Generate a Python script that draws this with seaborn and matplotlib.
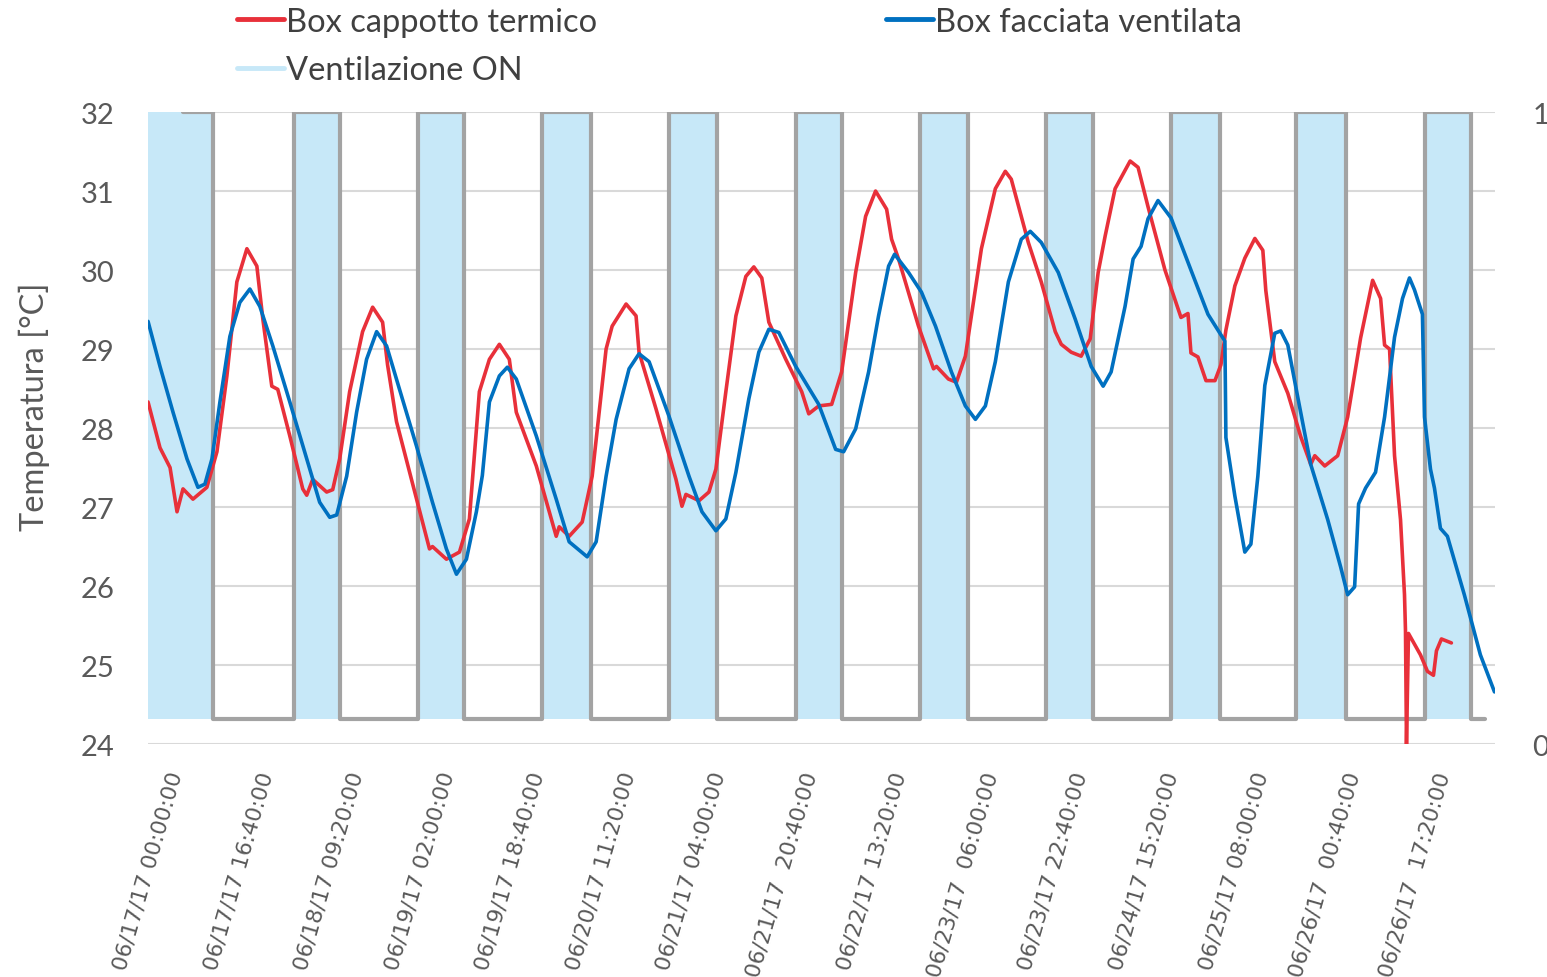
import numpy as np
import matplotlib
matplotlib.use('Agg')
import matplotlib.pyplot as plt
from matplotlib.lines import Line2D
import seaborn as sns

# x = minutes from 06/17/17 00:00 (one category label every 1000 min)
tick_labels = ['06/17/17 00:00:00', '06/17/17 16:40:00', '06/18/17 09:20:00',
               '06/19/17 02:00:00', '06/19/17 18:40:00', '06/20/17 11:20:00',
               '06/21/17 04:00:00', '06/21/17  20:40:00', '06/22/17 13:20:00',
               '06/23/17  06:00:00', '06/23/17 22:40:00', '06/24/17 15:20:00',
               '06/25/17 08:00:00', '06/26/17  00:40:00', '06/26/17  17:20:00']
tick_step = 1000

# Box cappotto termico
red_t = [0, 132, 243, 320, 386, 496, 650, 761, 871, 981, 1092, 1202, 1268, 1367, 1433,
         1566, 1709, 1753, 1819, 1973, 2040, 2117, 2227, 2370, 2481, 2591, 2646, 2745,
         2966, 3109, 3142, 3296, 3440, 3550, 3660, 3771, 3881, 3991, 4068, 4289, 4509,
         4542, 4652, 4796, 4906, 5060, 5127, 5281, 5391, 5424, 5612, 5832, 5898, 5942,
         6086, 6196, 6273, 6383, 6494, 6604, 6692, 6780, 6858, 7045, 7221, 7299, 7409,
         7552, 7662, 7817, 7927, 8037, 8159, 8214, 8291, 8511, 8677, 8710, 8842, 8930,
         9029, 9206, 9360, 9470, 9536, 9724, 9867, 10022, 10088, 10198, 10308, 10408,
         10496, 10573, 10683, 10849, 10937, 11047, 11234, 11411, 11488, 11521, 11598,
         11687, 11786, 11852, 11907, 12006, 12116, 12227, 12315, 12348, 12447, 12591,
         12734, 12844, 12889, 12999, 13142, 13252, 13395, 13528, 13616, 13660, 13715,
         13770, 13836, 13880, 13891, 13902, 13924, 14056, 14134, 14200, 14233, 14288,
         14398]
red_T = [28.33, 27.75, 27.5, 26.94, 27.23, 27.1, 27.25, 27.7, 28.66, 29.85, 30.27, 30.05,
         29.38, 28.53, 28.49, 27.9, 27.23, 27.15, 27.35, 27.19, 27.22, 27.61, 28.46, 29.22,
         29.53, 29.34, 28.8, 28.08, 27.1, 26.47, 26.5, 26.34, 26.43, 26.85, 28.46, 28.87,
         29.06, 28.87, 28.2, 27.52, 26.63, 26.75, 26.63, 26.81, 27.39, 29.0, 29.29, 29.57,
         29.42, 28.96, 28.24, 27.35, 27.01, 27.16, 27.08, 27.19, 27.48, 28.46, 29.42,
         29.92, 30.04, 29.9, 29.34, 28.87, 28.46, 28.18, 28.28, 28.3, 28.71, 29.97, 30.68,
         31.0, 30.77, 30.39, 30.14, 29.29, 28.75, 28.78, 28.62, 28.58, 28.91, 30.27, 31.03,
         31.25, 31.15, 30.35, 29.85, 29.22, 29.06, 28.96, 28.91, 29.13, 29.97, 30.43,
         31.03, 31.38, 31.3, 30.8, 30.0, 29.4, 29.45, 28.95, 28.9, 28.6, 28.6, 28.8, 29.24,
         29.8, 30.15, 30.4, 30.25, 29.74, 28.84, 28.44, 27.89, 27.54, 27.65, 27.52, 27.65,
         28.14, 29.14, 29.87, 29.64, 29.05, 29.0, 27.65, 26.84, 25.89, 25.43, 24.0, 25.4,
         25.13, 24.92, 24.87, 25.18, 25.33, 25.28]

# Box facciata ventilata
blue_t = [0, 132, 276, 430, 551, 628, 706, 794, 904, 1014, 1125, 1235, 1378, 1566, 1753,
          1896, 2007, 2084, 2194, 2304, 2414, 2525, 2635, 2778, 2966, 3142, 3296, 3407,
          3517, 3627, 3693, 3771, 3881, 3969, 4068, 4289, 4509, 4652, 4851, 4950, 5060,
          5171, 5314, 5424, 5535, 5755, 5976, 6119, 6273, 6383, 6494, 6637, 6747, 6858,
          6968, 7155, 7409, 7596, 7684, 7817, 7960, 8070, 8181, 8247, 8401, 8544, 8699,
          8875, 9029, 9140, 9250, 9360, 9504, 9647, 9746, 9867, 10055, 10242, 10419, 10551,
          10639, 10793, 10882, 10970, 11047, 11157, 11301, 11521, 11709, 11896, 11907,
          12006, 12116, 12183, 12260, 12337, 12447, 12513, 12591, 12701, 12844, 13032,
          13175, 13252, 13329, 13373, 13450, 13560, 13660, 13770, 13858, 13935, 13990,
          14078, 14101, 14167, 14211, 14277, 14354, 14541, 14718, 14874]
blue_T = [29.35, 28.78, 28.2, 27.61, 27.25, 27.29, 27.61, 28.33, 29.16, 29.59, 29.76, 29.54,
          29.04, 28.33, 27.61, 27.06, 26.87, 26.9, 27.39, 28.2, 28.87, 29.22, 29.04, 28.49,
          27.77, 27.06, 26.47, 26.15, 26.34, 26.94, 27.4, 28.33, 28.66, 28.77, 28.62, 27.9,
          27.1, 26.56, 26.37, 26.56, 27.39, 28.11, 28.75, 28.94, 28.84, 28.15, 27.39, 26.94,
          26.7, 26.85, 27.44, 28.37, 28.96, 29.25, 29.21, 28.78, 28.3, 27.73, 27.7, 27.99,
          28.71, 29.42, 30.05, 30.2, 29.97, 29.72, 29.29, 28.71, 28.28, 28.11, 28.28, 28.84,
          29.85, 30.39, 30.49, 30.35, 29.97, 29.38, 28.78, 28.53, 28.71, 29.54, 30.14, 30.3,
          30.65, 30.88, 30.66, 30.0, 29.44, 29.1, 27.88, 27.14, 26.43, 26.53, 27.39, 28.54,
          29.2, 29.23, 29.05, 28.39, 27.54, 26.84, 26.24, 25.89, 25.99, 27.04, 27.24, 27.44,
          28.14, 29.15, 29.64, 29.9, 29.75, 29.44, 28.14, 27.48, 27.24, 26.73, 26.63, 25.89,
          25.13, 24.66]

# Ventilazione ON (secondary axis, 0..1)
vent_on_start = [0, 1610, 2977, 4355, 5755, 7155, 8533, 9923, 11301, 12679, 14101]
vent_on_end = [717, 2117, 3495, 4895, 6284, 7662, 9063, 10441, 11841, 13230, 14619]
vent_first = 386   # the ventilation outline only starts here
vent_last = 14774
vent_on = 1.0
vent_off = 0.04

red = '#E8303A'
blue = '#0070C0'
band = '#C7E8F8'
grey_line = '#A3A3A3'
txt = '#595959'

sns.set_theme(style='white')
plt.rcParams['font.family'] = ['Lato', 'DejaVu Sans']

fig = plt.figure(figsize=(15.47, 9.78), dpi=100)
ax = fig.add_axes([0.0957, 0.2382, 0.8707, 0.6462])
ax2 = ax.twinx()
ax2.set_ylim(0, 1)

# step series of the ventilation
vx, vy = [], []
for s, e in zip(vent_on_start, vent_on_end):
    if s > 0:
        vx.append(s); vy.append(vent_off)
    vx += [s, e, e]
    vy += [vent_on, vent_on, vent_off]
vx.append(vent_last); vy.append(vent_off)

ax.fill_between(vx, vent_off, vy, transform=ax2.transData, color=band, lw=0, zorder=1)
lx = [max(x, vent_first) for x in vx]
ax.plot(lx, vy, transform=ax2.transData, color=grey_line, lw=3, zorder=1.5)

sns.lineplot(x=red_t, y=red_T, ax=ax, color=red, lw=2.6, sort=False, estimator=None, zorder=3)
sns.lineplot(x=blue_t, y=blue_T, ax=ax, color=blue, lw=2.6, sort=False, estimator=None, zorder=3)

ax.set_xlim(0, 14880)
ax.set_ylim(24, 32)
ax2.set_xlim(0, 14880)
ax.set_yticks(range(24, 33))
ax.grid(axis='y', color='#D9D9D9', lw=1.5)
ax.grid(axis='x', visible=False)
ax.set_axisbelow(True)
ax.set_xticks(np.arange(len(tick_labels)) * tick_step)
ax.set_xticklabels(tick_labels, rotation=74, ha='center', va='top',
                   fontsize=15.8, color=txt, family='DejaVu Sans')
ax.tick_params(axis='x', length=0, pad=18)
ax.tick_params(axis='y', length=0, pad=24, labelsize=21, labelcolor=txt)
ax.set_ylabel('Temperatura [°C]', fontsize=23.5, color=txt)
ax.yaxis.set_label_coords(-0.073, 0.535)

ax2.set_yticks([0, 1])
ax2.set_yticklabels(['0', '1'])
ax2.tick_params(axis='y', length=0, pad=27, labelsize=21, labelcolor=txt)
ax2.grid(False)

for a in (ax, ax2):
    for sp in a.spines.values():
        sp.set_visible(False)

handles = [Line2D([], [], color=red, lw=3.5),
           Line2D([], [], color=band, lw=3.5),
           Line2D([], [], color=blue, lw=3.5)]
labels = ['Box cappotto termico', 'Ventilazione ON', 'Box facciata ventilata']
leg = fig.legend(handles, labels, loc='upper left', bbox_to_anchor=(0.153, 0.992),
                 ncol=2, frameon=False, fontsize=23.5, handlelength=1.45, handletextpad=0.05,
                 columnspacing=8.85, labelspacing=0.56, borderpad=0, borderaxespad=0)
for t in leg.get_texts():
    t.set_color('#404040')

fig.savefig('out.png', dpi=100)
